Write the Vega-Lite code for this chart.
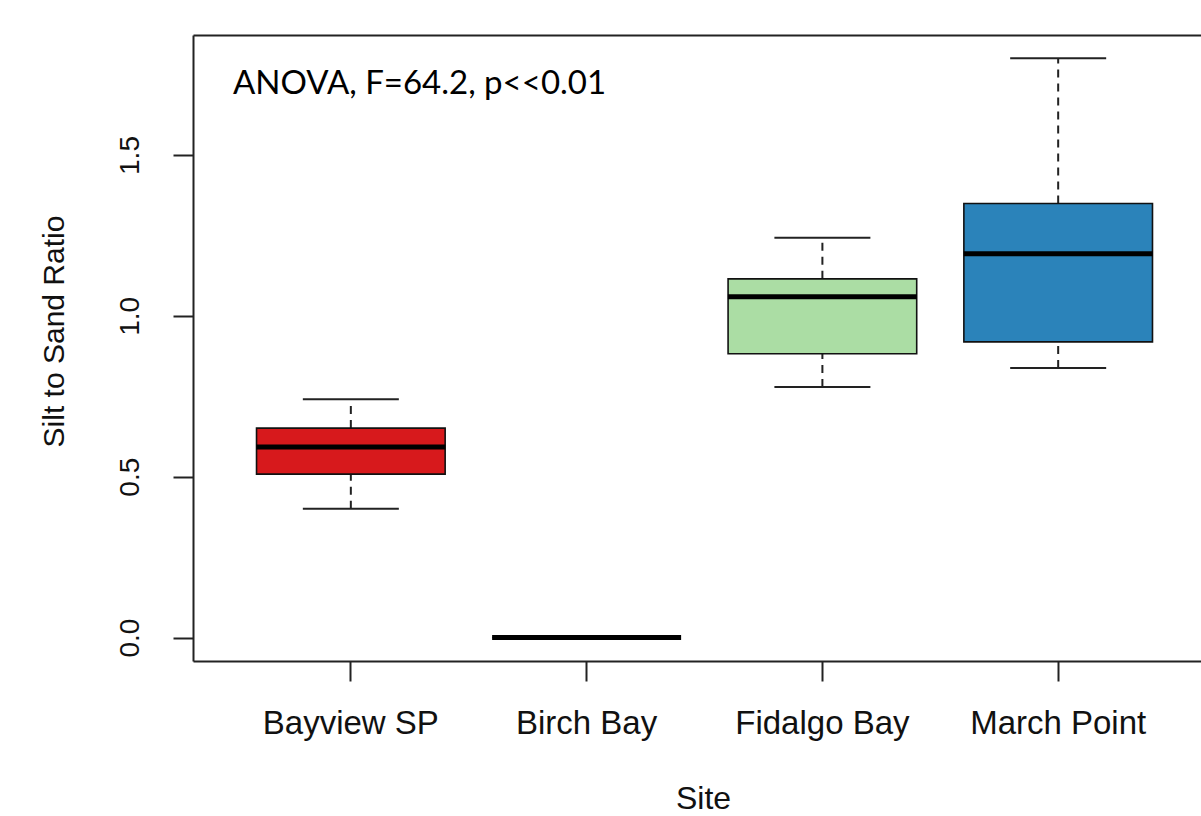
{
  "$schema": "https://vega.github.io/schema/vega-lite/v6.json",
  "autosize": {"type": "none"},
  "width": 1008,
  "height": 626,
  "padding": {"left": 193, "top": 35, "right": 0, "bottom": 155},
  "background": "white",
  "config": {"view": {"stroke": null}, "font": "Liberation Sans"},
  "datasets": {
    "boxes": [
      {"site": "Bayview SP", "lower": 0.40, "q1": 0.508, "median": 0.592, "q3": 0.651, "upper": 0.741},
      {"site": "Birch Bay", "lower": 0.0, "q1": 0.0, "median": 0.0, "q3": 0.0, "upper": 0.0},
      {"site": "Fidalgo Bay", "lower": 0.779, "q1": 0.882, "median": 1.059, "q3": 1.115, "upper": 1.243},
      {"site": "March Point", "lower": 0.838, "q1": 0.919, "median": 1.193, "q3": 1.349, "upper": 1.801}
    ],
    "note": [
      {"site": "Bayview SP", "value": 1.689, "label": "ANOVA, F=64.2, p<<0.01"}
    ]
  },
  "data": {"name": "boxes"},
  "resolve": {"axis": {"x": "independent", "y": "independent"}},
  "layer": [
    {
      "mark": {"type": "rule", "strokeDash": [8, 6], "strokeWidth": 2, "color": "#222", "opacity": 1},
      "encoding": {
        "x": {
          "field": "site", "type": "nominal",
          "scale": {"domain": ["Bayview SP", "Birch Bay", "Fidalgo Bay", "March Point"], "paddingInner": 0.2, "paddingOuter": 0.2376, "align": 0.567},
          "axis": {
            "orient": "bottom", "title": "Site", "labelAngle": 0,
            "domain": true, "domainColor": "#222", "domainWidth": 2,
            "ticks": true, "tickColor": "#222", "tickWidth": 2, "tickSize": 20,
            "labelFont": "Liberation Sans", "labelFontSize": 33, "labelColor": "#111",
            "labelBaseline": "alphabetic", "labelPadding": 52,
            "titleFont": "Liberation Sans", "titleFontSize": 32, "titleFontWeight": "normal", "titleColor": "#111",
            "titleBaseline": "alphabetic", "titleY": 147, "titleX": 510
          }
        },
        "y": {
          "field": "lower", "type": "quantitative",
          "scale": {"domain": [-0.073, 1.873], "nice": false, "zero": false},
          "axis": {
            "orient": "left", "title": "Silt to Sand Ratio", "values": [0, 0.5, 1, 1.5], "format": ".1f", "grid": false,
            "domain": true, "domainColor": "#222", "domainWidth": 2,
            "ticks": true, "tickColor": "#222", "tickWidth": 2, "tickSize": 20,
            "labelFont": "Liberation Sans", "labelFontSize": 28, "labelColor": "#111",
            "labelAngle": 270, "labelAlign": "center", "labelBaseline": "alphabetic", "labelPadding": 35,
            "titleFont": "Liberation Sans", "titleFontSize": 30, "titleFontWeight": "normal", "titleColor": "#111",
            "titleAngle": 270, "titleAlign": "center", "titleBaseline": "alphabetic", "titleX": -130, "titleY": 296
          }
        },
        "y2": {"field": "q1"}
      }
    },
    {
      "mark": {"type": "rule", "strokeDash": [8, 6], "strokeWidth": 2, "color": "#222", "opacity": 1},
      "encoding": {
        "x": {"field": "site", "type": "nominal", "axis": null},
        "y": {"field": "q3", "type": "quantitative", "axis": null},
        "y2": {"field": "upper"}
      }
    },
    {
      "mark": {"type": "tick", "size": 96, "thickness": 2, "color": "#222", "opacity": 1},
      "encoding": {
        "x": {"field": "site", "type": "nominal", "axis": null},
        "y": {"field": "lower", "type": "quantitative", "axis": null}
      }
    },
    {
      "mark": {"type": "tick", "size": 96, "thickness": 2, "color": "#222", "opacity": 1},
      "encoding": {
        "x": {"field": "site", "type": "nominal", "axis": null},
        "y": {"field": "upper", "type": "quantitative", "axis": null}
      }
    },
    {
      "mark": {"type": "bar", "stroke": "#111", "strokeWidth": 1.6, "opacity": 1},
      "encoding": {
        "x": {
          "field": "site", "type": "nominal",
          "axis": {"orient": "top", "labels": false, "ticks": false, "title": null, "domain": true, "domainColor": "#222", "domainWidth": 2}
        },
        "y": {"field": "q1", "type": "quantitative", "axis": null},
        "y2": {"field": "q3"},
        "color": {
          "field": "site", "type": "nominal", "legend": null,
          "scale": {"domain": ["Bayview SP", "Birch Bay", "Fidalgo Bay", "March Point"], "range": ["#D7191C", "#FDAE61", "#ABDDA4", "#2B83BA"]}
        }
      }
    },
    {
      "mark": {"type": "tick", "size": 189, "thickness": 5, "color": "#000", "opacity": 1},
      "encoding": {
        "x": {"field": "site", "type": "nominal", "axis": null},
        "y": {"field": "median", "type": "quantitative", "axis": null}
      }
    },
    {
      "data": {"name": "note"},
      "mark": {"type": "text", "align": "left", "baseline": "alphabetic", "font": "Lato", "fontSize": 33, "color": "#000", "dx": -23.5},
      "encoding": {
        "x": {"field": "site", "type": "nominal", "bandPosition": 0, "axis": null},
        "y": {"field": "value", "type": "quantitative", "axis": null},
        "text": {"field": "label"}
      }
    }
  ]
}
